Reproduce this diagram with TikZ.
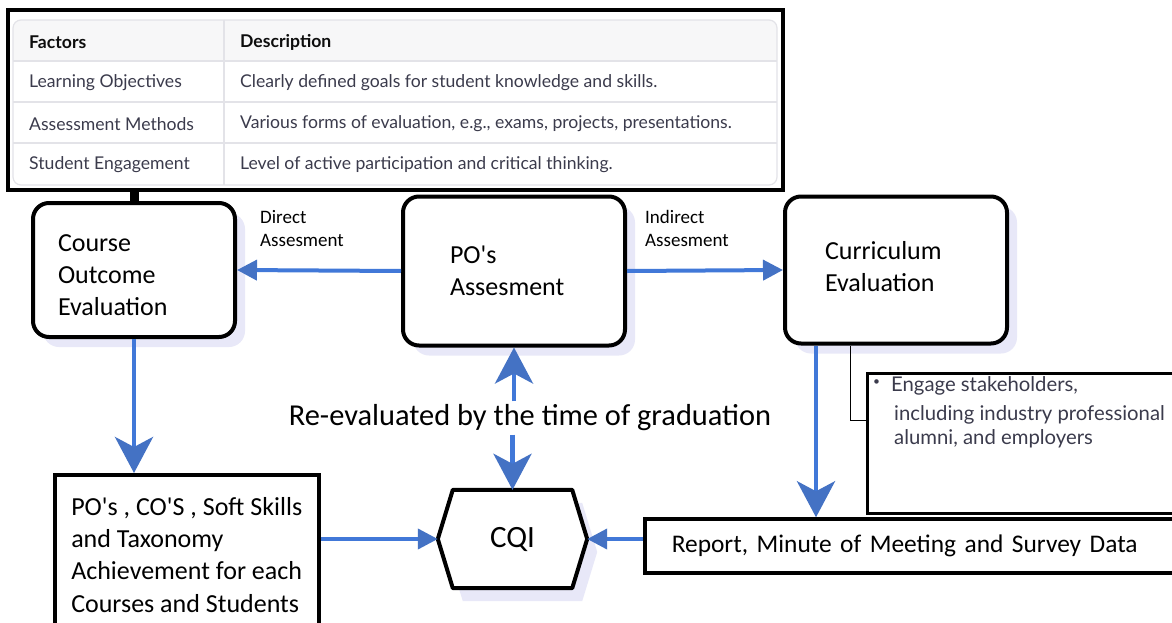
\documentclass[tikz,border=0pt]{standalone}
\usepackage{fontspec}
\setmainfont{Carlito}
\newfontfamily\tblfont{Lato}
\usetikzlibrary{arrows.meta, shadows}
\definecolor{linkblue}{HTML}{4178D8}
\definecolor{headblue}{HTML}{4472C4}
\definecolor{lavshade}{HTML}{E8E8F8}
\definecolor{gridgray}{HTML}{E3E3E8}
\definecolor{headbg}{HTML}{F7F7F8}
\definecolor{inkgray}{HTML}{3B3B4C}
\definecolor{inkdark}{HTML}{0D0D0D}
\newcommand{\apos}{\textquotesingle}

\begin{document}
\begin{tikzpicture}[
  x=1pt, y=-1pt,
  roundbox/.style={draw, line width=4pt, rounded corners=16pt, fill=white,
    align=left, font=\fontsize{26}{32}\selectfont,
    drop shadow={shadow xshift=10pt, shadow yshift=-10pt, fill=lavshade, opacity=1}},
  plainbox/.style={draw, line width=3.5pt, fill=white, align=left},
  cell/.style={anchor=west, inner sep=0pt, text=inkgray,
    font=\tblfont\fontsize{17.6}{20}\selectfont},
  headcell/.style={cell, text=inkdark,
    font=\tblfont\bfseries\fontsize{17.6}{20}\selectfont},
  stktext/.style={anchor=west, inner sep=0pt, text=inkgray,
    font=\tblfont\fontsize{20.3}{22}\selectfont},
  flowlabel/.style={anchor=west, align=left, inner sep=0pt,
    font=\fontsize{19}{23}\selectfont},
  flow/.style={draw=linkblue, line width=4pt,
    -{Triangle[length=20pt, width=20pt, color=headblue]}},
  bigflow/.style={draw=linkblue, line width=4.5pt,
    -{Stealth[length=36pt, width=38pt, inset=10pt, color=headblue]}},
]
\clip (0,0) rectangle (1172,623);
\fill[white] (0,0) rectangle (1172,623);

% === Factors table ===
\node[draw, line width=3.5pt, minimum width=775pt, minimum height=180pt,
  inner sep=0pt] (tbl) at (395.5,100) {};
\fill[headbg] (13,61) [rounded corners=8pt] -- (13,20) -- (777,20)
  [sharp corners] -- (777,61) -- cycle;
\draw[gridgray, line width=1.2pt, rounded corners=8pt] (13,20) rectangle (777,185);
\foreach \y in {61,102,143}
  \draw[gridgray, line width=1.2pt] (13,\y) -- (777,\y);
\draw[gridgray, line width=1.2pt] (224,20) -- (224,185);

\node[headcell] (hfac) at (29,42) {Factors};
\node[headcell] (hdesc) at (240,42) {Description};
\node[cell] (fac1) at (29,83) {Learning Objectives};
\node[cell] (desc1) at (240,83) {Clearly defined goals for student knowledge and skills.};
\node[cell] (fac2) at (29,124) {Assessment Methods};
\node[cell] (desc2) at (240,124) {Various forms of evaluation, e.g., exams, projects, presentations.};
\node[cell] (fac3) at (29,165) {Student Engagement};
\node[cell] (desc3) at (240,165) {Level of active participation and critical thinking.};

% === Evaluation boxes ===
\node[roundbox, minimum width=202pt, minimum height=134pt, text width=152pt]
  (coe) at (134,270) {\rule{0pt}{27pt}Course\\Outcome\\Evaluation};
\node[roundbox, minimum width=222pt, minimum height=149pt, text width=128pt]
  (po) at (514,271) {PO\apos s\\Assesment};
\node[roundbox, minimum width=222pt, minimum height=147pt, text width=142pt]
  (ce) at (896,270) {Curriculum\\Evaluation\rule[-8pt]{0pt}{8pt}};

% stem from the table down to the course box
\draw[line width=9pt] (coe.north) -- (coe.north |- tbl.south);

% direct / indirect assessment
\draw[flow] (po.west) -- (coe.east);
\draw[flow] (po.east) -- (ce.west);
\node[flowlabel] (dirlbl) at (260,229) {Direct\\Assesment};
\node[flowlabel] (indlbl) at (645,228) {Indirect\\Assesment};

% === Lower row ===
\node[plainbox, anchor=north west, minimum width=264pt, minimum height=160pt,
  font=\fontsize{26}{32.3}\selectfont]
  (pcs) at (53,473) {PO\apos s , CO\apos S , Soft Skills\\and Taxonomy\\Achievement for each\\Courses and Students};

\node[minimum width=149pt, minimum height=98pt] (cqi) at (512.5,539) {};
\fill[lavshade, transform canvas={shift={(10pt,-13pt)}}]
  ([xshift=15pt]cqi.north west) -- ([xshift=-15pt]cqi.north east) -- (cqi.east)
  -- ([xshift=-15pt]cqi.south east) -- ([xshift=15pt]cqi.south west) -- (cqi.west) -- cycle;
\draw[line width=4pt, fill=white, line join=round]
  ([xshift=15pt]cqi.north west) -- ([xshift=-15pt]cqi.north east) -- (cqi.east)
  -- ([xshift=-15pt]cqi.south east) -- ([xshift=15pt]cqi.south west) -- (cqi.west) -- cycle;
\node[font=\fontsize{31}{34}\selectfont] (cqitxt) at (cqi) {CQI};

\node[plainbox, anchor=west, minimum height=54pt, text width=520pt, inner xsep=27pt,
  font=\fontsize{25.4}{28}\selectfont]
  (rep) at (643,546) {Report, Minute of Meeting and Survey Data};

% stakeholder note
\node[plainbox, line width=3pt, anchor=north west, minimum width=330pt,
  minimum height=140pt] (stk) at (866,372) {};
\node[stktext, font=\tblfont\fontsize{12}{12}\selectfont] (stkb) at (873,383) {\textbullet};
\node[stktext] (stk1) at (891,386) {Engage stakeholders,};
\node[stktext] (stk2) at (894,415) {including industry professional};
\node[stktext] (stk3) at (894,439) {alumni, and employers};
\draw[line width=1pt] ([xshift=-46pt]ce.south) |- ([yshift=23pt]stk.west);

% === Flow into CQI ===
\node[font=\fontsize{30.4}{34}\selectfont] (reval) at (530,418)
  {Re-evaluated by the time of graduation};
\draw[bigflow] (reval.north -| po.south) -- (po.south);
\draw[bigflow] (reval.south -| cqi.north) -- (cqi.north);
\draw[bigflow] (coe.south) -- (coe.south |- pcs.north);
\draw[bigflow] ([xshift=-80pt]ce.south) -- ([xshift=-80pt]ce.south |- rep.north);
\draw[flow] (pcs.east |- cqi.west) -- (cqi.west);
\draw[flow] (rep.west |- cqi.east) -- (cqi.east);

\end{tikzpicture}
\end{document}
